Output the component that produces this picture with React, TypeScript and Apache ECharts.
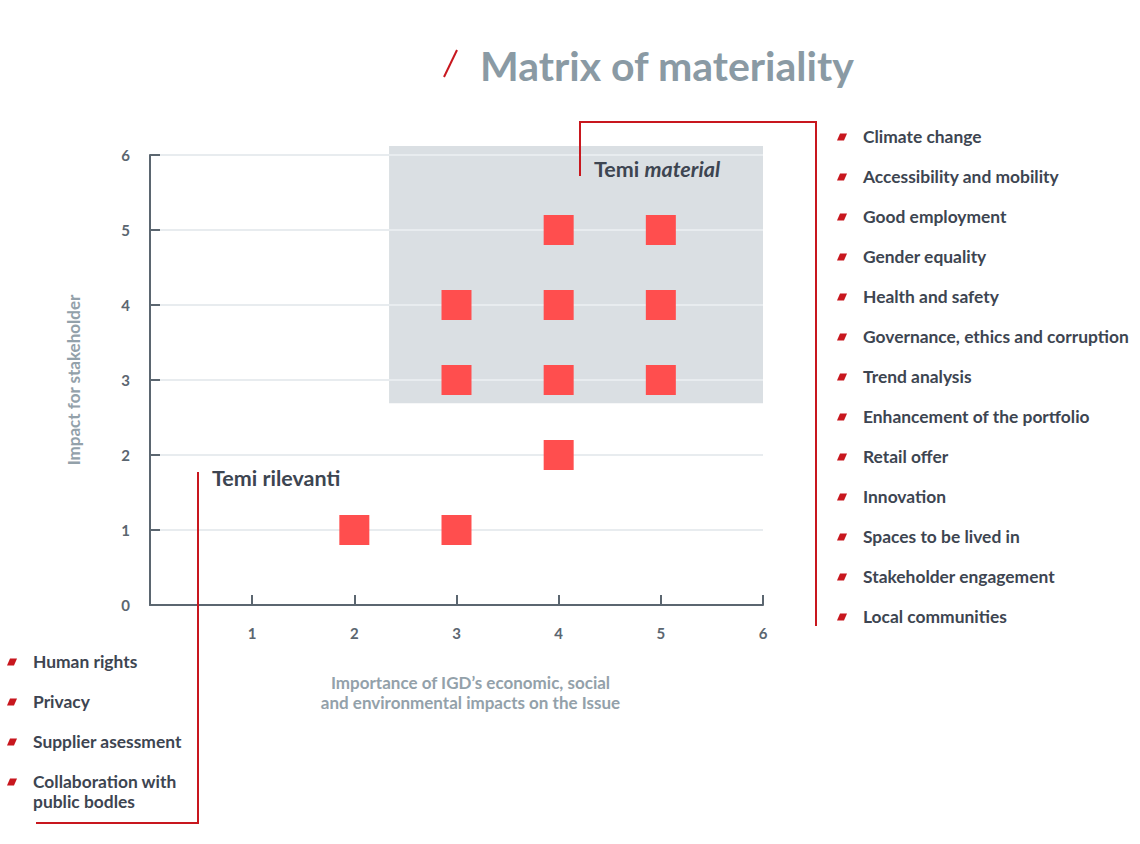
import React, { useEffect, useRef } from "react";
import * as echarts from "echarts";

const points: [number, number][] = [
  [2, 1], [3, 1], [4, 2],
  [3, 3], [4, 3], [5, 3],
  [3, 4], [4, 4], [5, 4],
  [4, 5], [5, 5],
];
const materialArea = { x0: 2.34, x1: 6, y0: 2.69, y1: 6.12 };
const materialTopics = [
  "Climate change",
  "Accessibility and mobility",
  "Good employment",
  "Gender equality",
  "Health and safety",
  "Governance, ethics and corruption",
  "Trend analysis",
  "Enhancement of the portfolio",
  "Retail offer",
  "Innovation",
  "Spaces to be lived in",
  "Stakeholder engagement",
  "Local communities",
];
const relevantTopics = [
  "Human rights",
  "Privacy",
  "Supplier asessment",
  "Collaboration with\npublic bodles",
];

const FONT = "Lato, 'Source Sans Pro', 'Noto Sans', sans-serif";
const DARK = "#3d4551";
const AXIS = "#5b6670";
const RED = "#c8171e";

function marker(x: number, y: number) {
  return {
    type: "polygon",
    shape: { points: [[x + 3, y - 3.5], [x + 10, y - 3.5], [x + 7, y + 3.5], [x, y + 3.5]] },
    style: { fill: RED },
  };
}

export default function App() {
  const ref = useRef<HTMLDivElement>(null);
  useEffect(() => {
    document.body.style.margin = "0";
    const chart = echarts.init(ref.current!, null, { renderer: "svg" });
    const graphics: any[] = [];
    // title
    graphics.push({
      type: "line",
      shape: { x1: 457, y1: 50, x2: 444, y2: 77 },
      style: { stroke: RED, lineWidth: 2 },
    });
    graphics.push({
      type: "text",
      x: 480,
      y: 65,
      style: {
        text: "Matrix of materiality",
        font: `bold 41px ${FONT}`,
        fill: "#8a9aa4",
        verticalAlign: "middle",
      },
    });
    // right legend
    materialTopics.forEach((t, i) => {
      const y = 137 + i * 40;
      graphics.push(marker(837, y));
      graphics.push({
        type: "text",
        x: 863,
        y: y - 1,
        style: { text: t, font: `bold 17.4px ${FONT}`, fill: DARK, verticalAlign: "middle" },
      });
    });
    // left legend
    relevantTopics.forEach((t, i) => {
      const y = 662 + i * 40;
      graphics.push(marker(7, y));
      graphics.push({
        type: "text",
        x: 33,
        y: y - 11,
        style: { text: t, font: `bold 17.4px ${FONT}`, fill: DARK, verticalAlign: "top", lineHeight: 20 },
      });
    });
    // brackets
    graphics.push({
      type: "polyline",
      shape: { points: [[580, 176], [580, 122], [816, 122], [816, 626]] },
      style: { stroke: RED, lineWidth: 2, fill: null },
      z: 20,
    });
    graphics.push({
      type: "polyline",
      shape: { points: [[198, 472], [198, 823], [36, 823]] },
      style: { stroke: RED, lineWidth: 2, fill: null },
      z: 20,
    });
    graphics.push({
      type: "text",
      x: 594,
      y: 169,
      style: {
        rich: {
          a: { font: `bold 21.5px ${FONT}`, fill: DARK },
          b: { font: `italic bold 21.5px ${FONT}`, fill: DARK },
        },
        text: "{a|Temi }{b|material}",
        verticalAlign: "middle",
      },
      z: 10,
    });
    graphics.push({
      type: "text",
      x: 212,
      y: 478,
      style: { text: "Temi rilevanti", font: `bold 21.5px ${FONT}`, fill: DARK, verticalAlign: "middle" },
    });

    chart.setOption({
      animation: false,
      grid: { left: 150, right: 377, top: 155, bottom: 239, containLabel: false },
      xAxis: {
        type: "value",
        min: 0,
        max: 6,
        interval: 1,
        name: "Importance of IGD’s economic, social\nand environmental impacts on the Issue",
        nameLocation: "middle",
        nameGap: 67,
        nameTextStyle: {
          fontFamily: FONT,
          fontWeight: "bold",
          fontSize: 17,
          color: "#93a1aa",
          lineHeight: 20,
          padding: [0, 0, 0, 28],
        },
        axisLine: { show: true, lineStyle: { color: AXIS, width: 2 } },
        axisTick: { show: true, inside: true, length: 10, lineStyle: { color: AXIS, width: 2 } },
        axisLabel: {
          margin: 20,
          fontFamily: FONT,
          fontWeight: "bold",
          fontSize: 15,
          color: AXIS,
          formatter: (v: number) => (v === 0 ? "" : String(v)),
        },
        splitLine: { show: false },
      },
      yAxis: {
        type: "value",
        min: 0,
        max: 6,
        interval: 1,
        name: "Impact for stakeholder",
        nameLocation: "middle",
        nameGap: 68,
        nameTextStyle: {
          fontFamily: FONT,
          fontWeight: "bold",
          fontSize: 17,
          color: "#93a1aa",
        },
        axisLine: { show: true, lineStyle: { color: AXIS, width: 2 } },
        axisTick: { show: true, inside: true, length: 10, lineStyle: { color: AXIS, width: 2 } },
        axisLabel: {
          margin: 20,
          fontFamily: FONT,
          fontWeight: "bold",
          fontSize: 15,
          color: AXIS,
        },
        splitLine: { show: true, lineStyle: { color: "#e8ecef", width: 2 } },
      },
      series: [
        {
          type: "scatter",
          data: points,
          symbol: "rect",
          symbolSize: 30,
          z: 5,
          itemStyle: { color: "#ff4e4e", opacity: 1 },
        },
      ],
      graphic: graphics,
    });

    const p0 = chart.convertToPixel({ gridIndex: 0 }, [materialArea.x0, materialArea.y1]) as number[];
    const p1 = chart.convertToPixel({ gridIndex: 0 }, [materialArea.x1, materialArea.y0]) as number[];
    chart.setOption({
      graphic: [
        ...graphics,
        {
          type: "rect",
          z: -10,
          shape: { x: p0[0], y: p0[1], width: p1[0] - p0[0], height: p1[1] - p0[1] },
          style: { fill: "#dadfe3" },
        },
      ],
    });
    return () => chart.dispose();
  }, []);
  return <div ref={ref} style={{ width: 1140, height: 844 }} />;
}
